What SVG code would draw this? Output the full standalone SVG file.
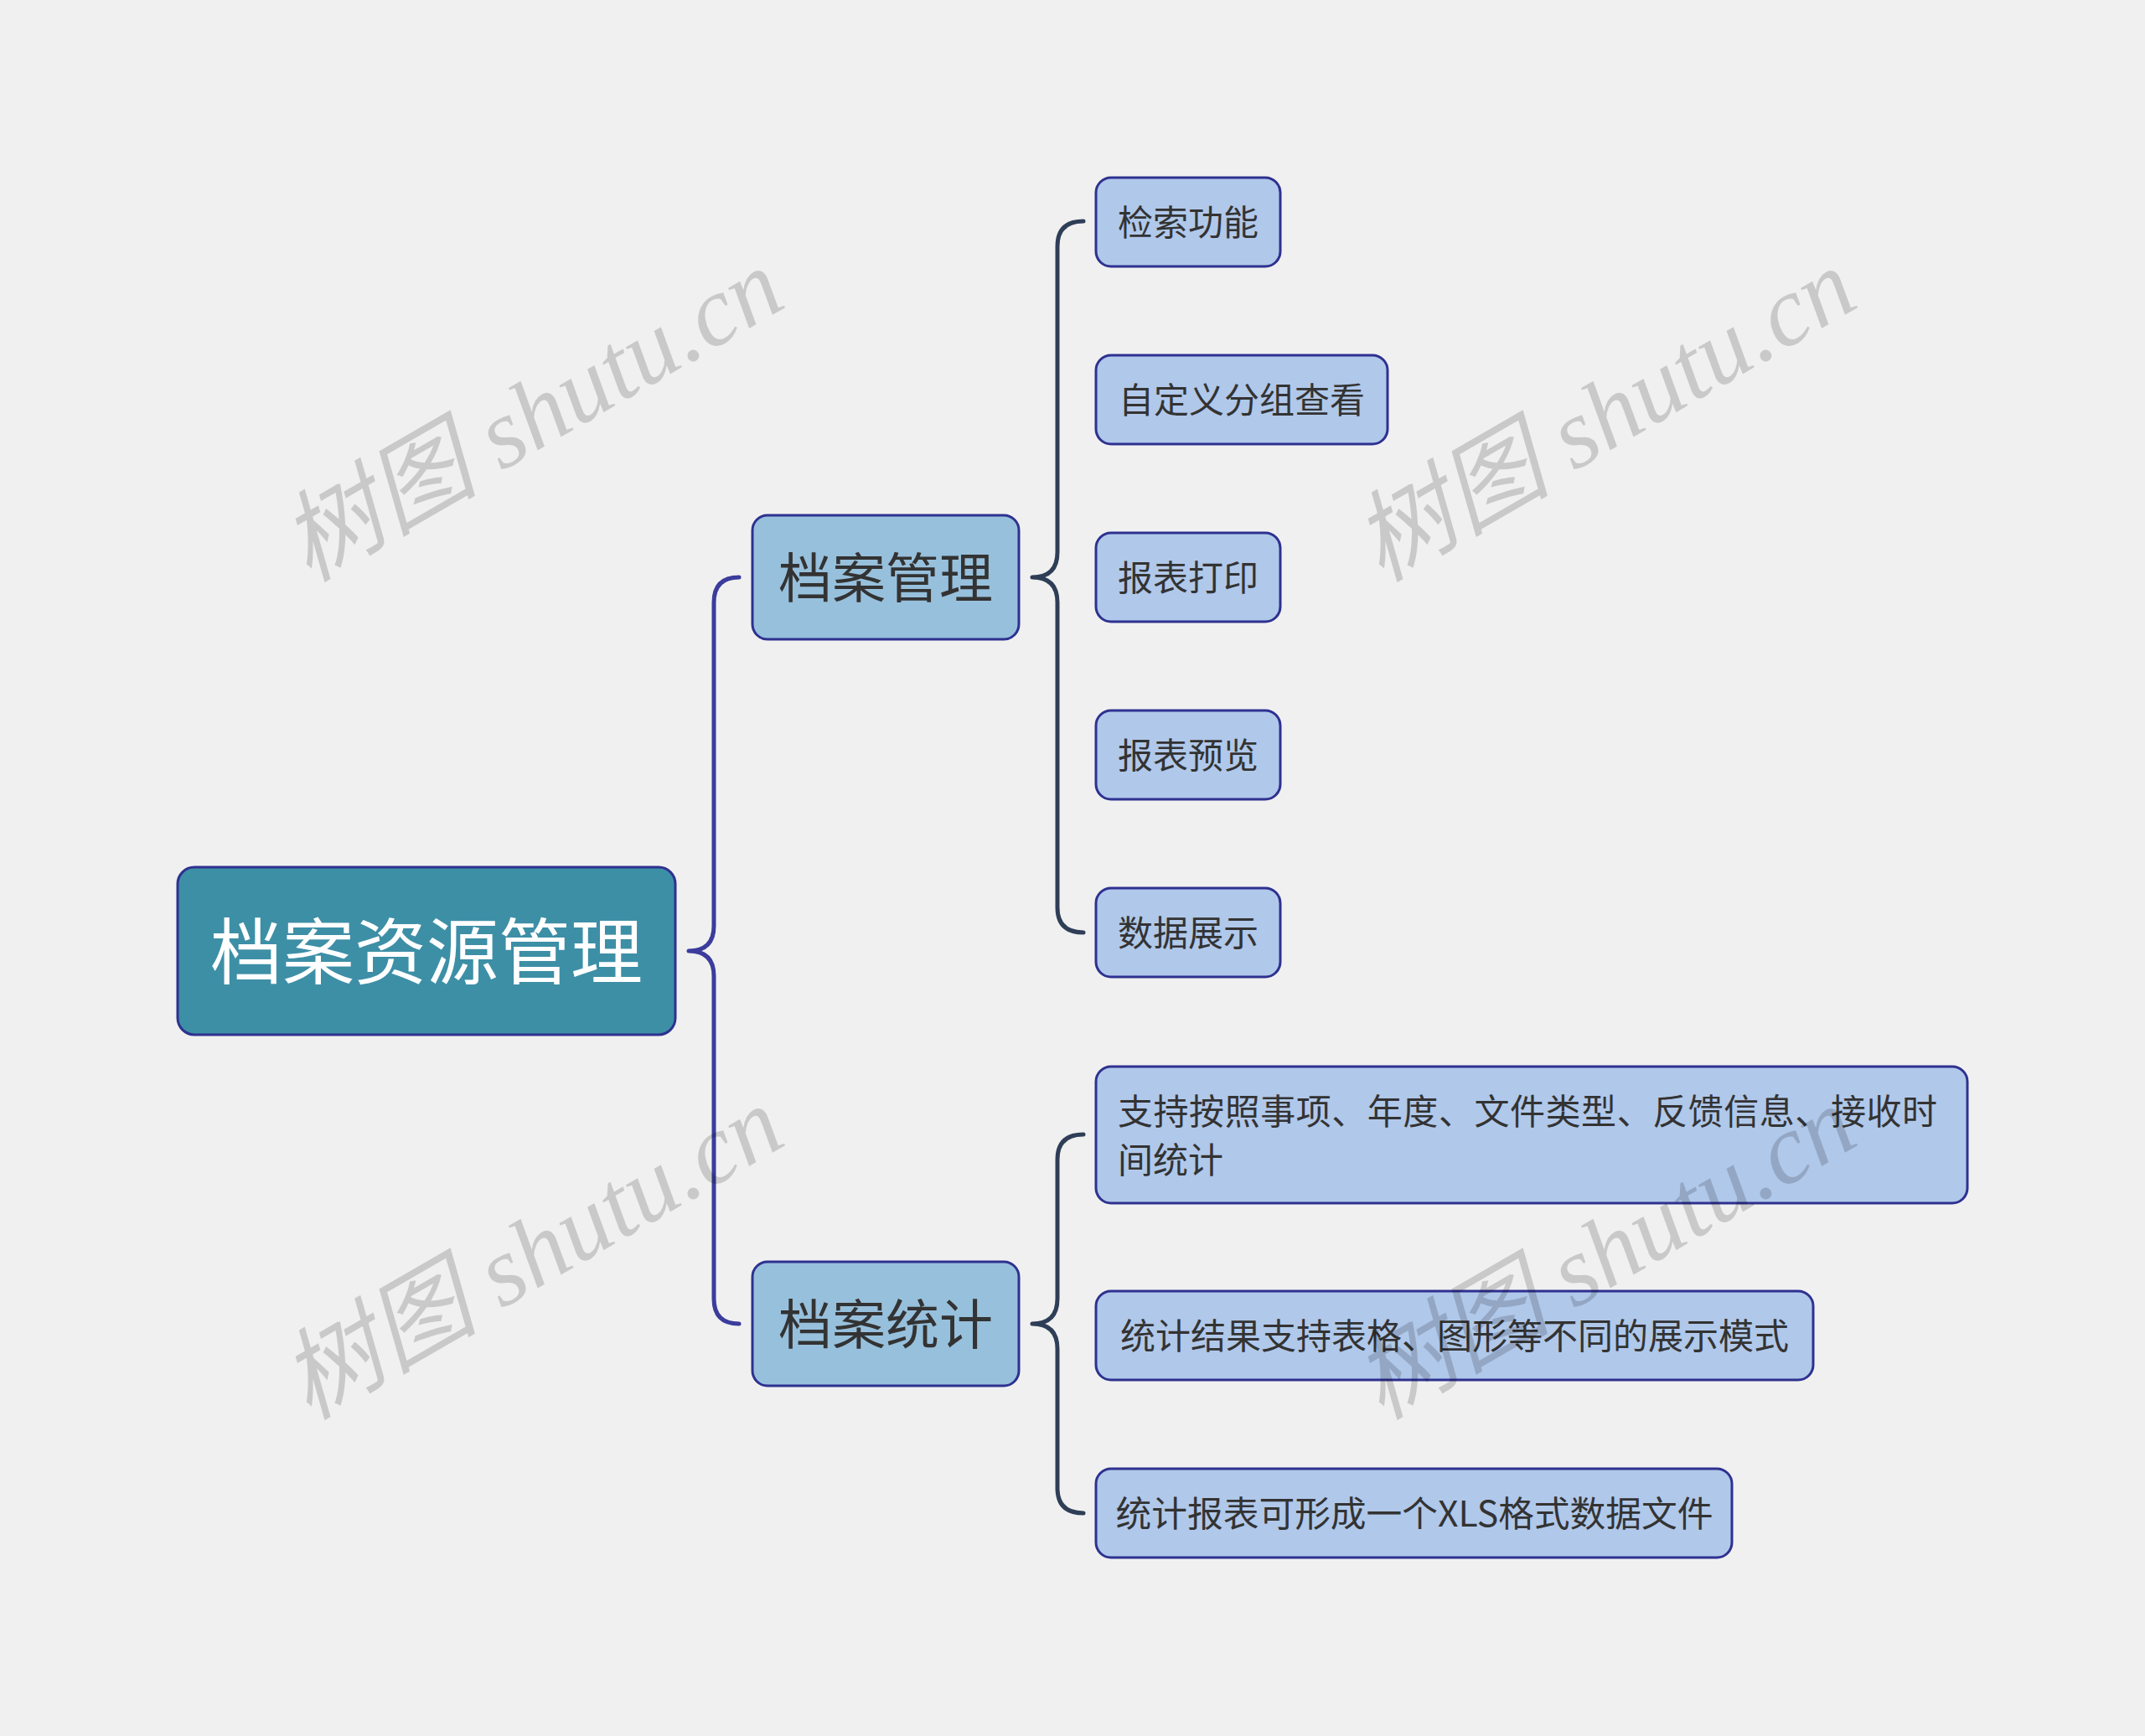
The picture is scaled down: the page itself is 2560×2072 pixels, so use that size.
<svg xmlns="http://www.w3.org/2000/svg" width="2560" height="2072" viewBox="0 0 2560 2072">
<style>
.bg{fill:#f0f0f0}
.root rect{fill:#3d8fa6;stroke:#2e3190;stroke-width:3}
.root text{fill:#ffffff;font-size:86px}
.l1 rect{fill:#97c0dc;stroke:#2e3190;stroke-width:3}
.l1 text{fill:#333333;font-size:64px}
.leaf rect{fill:#b0c8ea;stroke:#2e3190;stroke-width:3}
.leaf text{fill:#333333;font-size:42px}
text{font-family:"Noto Sans CJK SC","Microsoft YaHei",sans-serif}
.c{text-anchor:middle}
.brace0{fill:none;stroke:#3b3c9c;stroke-width:5;stroke-linecap:round;stroke-linejoin:round}
.brace1{fill:none;stroke:#2f3e57;stroke-width:5;stroke-linecap:round;stroke-linejoin:round}
.wm{font-family:"Liberation Serif","Noto Sans CJK SC",serif;font-style:italic;font-size:118px;fill:#000000;fill-opacity:0.16;text-anchor:middle}
</style>
<rect class="bg" x="0" y="0" width="2560" height="2072"/>
<g id="connectors">
<path class="brace0" d="M882 689 Q852 689 852 719 L852 1105 Q852 1135 822 1135 Q852 1135 852 1165 L852 1550 Q852 1580 882 1580"/>
<path class="brace1" d="M1293 264 Q1262 264 1262 294 L1262 659 Q1262 689 1232 689 Q1262 689 1262 719 L1262 1083 Q1262 1113 1293 1113"/>
<path class="brace1" d="M1293 1354 Q1262 1354 1262 1384 L1262 1550 Q1262 1580 1232 1580 Q1262 1580 1262 1610 L1262 1776 Q1262 1806 1293 1806"/>
</g>
<g id="root" class="root">
<rect x="212" y="1035" width="594" height="200" rx="20"/>
<text class="c" x="509" y="1168">档案资源管理</text>
</g>
<g id="n-guanli" class="l1">
<rect x="898" y="615" width="318" height="148" rx="18"/>
<text class="c" x="1057" y="713">档案管理</text>
</g>
<g id="n-tongji" class="l1">
<rect x="898" y="1506" width="318" height="148" rx="18"/>
<text class="c" x="1057" y="1604">档案统计</text>
</g>
<g id="leaf-jiansuo" class="leaf">
<rect x="1308" y="212" width="220" height="106" rx="18"/>
<text class="c" x="1418" y="281">检索功能</text>
</g>
<g id="leaf-zidingyi" class="leaf">
<rect x="1308" y="424" width="348" height="106" rx="18"/>
<text class="c" x="1482" y="493">自定义分组查看</text>
</g>
<g id="leaf-dayin" class="leaf">
<rect x="1308" y="636" width="220" height="106" rx="18"/>
<text class="c" x="1418" y="705">报表打印</text>
</g>
<g id="leaf-yulan" class="leaf">
<rect x="1308" y="848" width="220" height="106" rx="18"/>
<text class="c" x="1418" y="917">报表预览</text>
</g>
<g id="leaf-zhanshi" class="leaf">
<rect x="1308" y="1060" width="220" height="106" rx="18"/>
<text class="c" x="1418" y="1129">数据展示</text>
</g>
<g id="leaf-anzhao" class="leaf">
<rect x="1308" y="1273" width="1040" height="163" rx="18"/>
<text x="1334" y="1342" textLength="978" lengthAdjust="spacing">支持按照事项、年度、文件类型、反馈信息、接收时</text>
<text x="1334" y="1400">间统计</text>
</g>
<g id="leaf-jieguo" class="leaf">
<rect x="1308" y="1541" width="856" height="106" rx="18"/>
<text class="c" x="1736" y="1610">统计结果支持表格、图形等不同的展示模式</text>
</g>
<g id="leaf-xls" class="leaf">
<rect x="1308" y="1753" width="759" height="106" rx="18"/>
<text class="c" x="1688" y="1822" textLength="713" lengthAdjust="spacingAndGlyphs">统计报表可形成一个XLS格式数据文件</text>
</g>
<g id="watermarks">
<text class="wm" transform="translate(655 530) rotate(-30)">树图 shutu.cn</text>
<text class="wm" transform="translate(1935 530) rotate(-30)">树图 shutu.cn</text>
<text class="wm" transform="translate(655 1530) rotate(-30)">树图 shutu.cn</text>
<text class="wm" transform="translate(1935 1530) rotate(-30)">树图 shutu.cn</text>
</g>
</svg>
